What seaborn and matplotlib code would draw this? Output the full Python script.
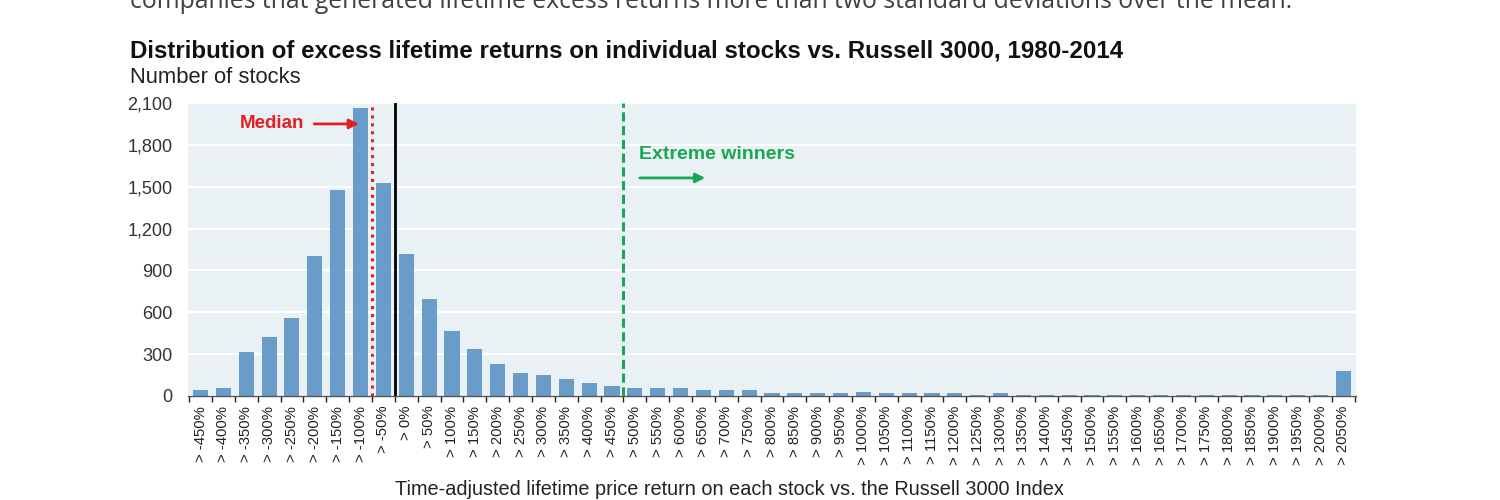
import matplotlib
matplotlib.use('Agg')
import matplotlib.pyplot as plt
import seaborn as sns

# Data
bins = list(range(-450, 2051, 50))
bin_labels = [f"> {b}%" for b in bins]
stock_counts = [40, 60, 315, 420, 560, 1000, 1475, 2065, 1525, 1020,
                695, 465, 335, 230, 165, 150, 125, 95, 75, 60,
                60, 60, 40, 40, 40, 20, 20, 20, 20, 30,
                20, 20, 20, 20, 8, 20, 8, 8, 8, 8,
                8, 8, 8, 8, 8, 8, 8, 8, 8, 8,
                180]
y_ticks = list(range(0, 2101, 300))

median_edge = "> -50%"     # median sits at the lower edge of this bin
zero_edge = "> 0%"
extreme_edge = "> 500%"

bar_color = '#6A9CC9'
bg_color = '#EAF1F5'
red = '#E31E24'
green = '#1AA654'

sns.set_theme(style="white")
plt.rcParams['font.family'] = ['Liberation Sans', 'DejaVu Sans']

fig = plt.figure(figsize=(15, 5), dpi=100)
ax = fig.add_axes([0.1253, 0.208, 0.7787, 0.586])
ax.set_facecolor(bg_color)

sns.barplot(x=bin_labels, y=stock_counts, color=bar_color, width=0.66,
            saturation=1, linewidth=0, ax=ax, zorder=2)

ax.set_ylim(0, 2100)
ax.set_xlim(-0.55, len(bins) - 0.45)
ax.set_yticks(y_ticks)
ax.set_yticklabels([f"{v:,}" for v in y_ticks], fontsize=13, color='#333333')
ax.yaxis.grid(True, color='white', linewidth=1.5, zorder=1)
ax.set_axisbelow(True)
ax.tick_params(axis='y', length=0, pad=11)

# labels centred under bars, tick marks on bin boundaries
ax.set_xticks(range(len(bins)))
ax.set_xticklabels(bin_labels, rotation=90, fontsize=10.7, color='#222222')
ax.tick_params(axis='x', which='major', length=0, pad=7)
ax.set_xticks([i - 0.5 for i in range(len(bins) + 1)], minor=True)
ax.tick_params(axis='x', which='minor', length=4, width=1, color='#222222',
               direction='out', bottom=True)

for s in ['top', 'right', 'left']:
    ax.spines[s].set_visible(False)
ax.spines['bottom'].set_color('#555555')
ax.spines['bottom'].set_linewidth(1)

ax.set_xlabel('Time-adjusted lifetime price return on each stock vs. the Russell 3000 Index',
              fontsize=14.3, color='#222222')
ax.xaxis.set_label_coords(0.464, -0.287)
ax.set_ylabel('')

# reference lines
m = bin_labels.index(median_edge) - 0.5
z = bin_labels.index(zero_edge) - 0.5
e = bin_labels.index(extreme_edge) - 0.5
ax.axvline(m, color=red, linestyle=(0, (1, 1.6)), linewidth=2.2, zorder=3)
ax.axvline(z, color='black', linewidth=2, zorder=3)
ax.axvline(e, color=green, linestyle=(0, (3, 1.5)), linewidth=2.2, zorder=3)

ax.text(m - 2.95, 1950, 'Median', color=red, fontsize=13.5, fontweight='bold',
        ha='right', va='center')
ax.annotate('', xy=(m - 0.45, 1950), xytext=(m - 2.65, 1950),
            arrowprops=dict(arrowstyle='-|>', color=red, lw=2, mutation_scale=14))

ax.text(e + 0.7, 1728, 'Extreme winners', color=green, fontsize=14,
        fontweight='bold', ha='left', va='center')
ax.annotate('', xy=(e + 3.7, 1563), xytext=(e + 0.6, 1563),
            arrowprops=dict(arrowstyle='-|>', color=green, lw=2, mutation_scale=14))

# header texts
fig.text(0.0867, 0.984, 'companies that generated lifetime excess returns more than two '
         'standard deviations over the mean.', fontsize=17.8, color='#404040',
         family=['Open Sans', 'DejaVu Sans'], ha='left', va='baseline')
fig.text(0.0867, 0.898, 'Distribution of excess lifetime returns on individual stocks '
         'vs. Russell 3000, 1980-2014', fontsize=17.4, fontweight='bold',
         color='#111111', ha='left', va='center')
fig.text(0.0867, 0.845, 'Number of stocks', fontsize=15.8, color='#222222',
         ha='left', va='center')

plt.savefig('out.png', dpi=100)
plt.close()
